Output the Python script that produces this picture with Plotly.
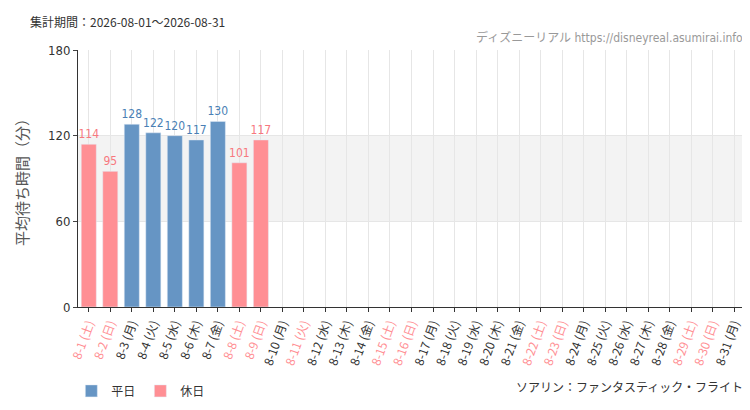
import plotly.graph_objects as go

days = ["8-%d" % d for d in range(1, 32)]
weekdays = ["土", "日", "月", "火", "水", "木", "金"] * 5
weekdays = weekdays[:31]
holidays = [1, 2, 8, 9, 11, 15, 16, 22, 23, 29, 30]
values = [114, 95, 128, 122, 120, 117, 130, 101, 117] + [None] * 22

blue = "#6695c4"
pink = "#ff8f94"
lab_blue = "#4a7fb5"
lab_pink = "#f7787e"
num_font = "DejaVu Sans Condensed, Roboto Condensed, Roboto"

cats = [d + " (" + w + ")" for d, w in zip(days, weekdays)]
hol_flag = [(i + 1) in holidays for i in range(31)]

wx = [c for c, h, v in zip(cats, hol_flag, values) if not h and v is not None]
wy = [v for h, v in zip(hol_flag, values) if not h and v is not None]
hx = [c for c, h, v in zip(cats, hol_flag, values) if h and v is not None]
hy = [v for h, v in zip(hol_flag, values) if h and v is not None]

ticktext = ['<span style="color:%s">%s</span>' % (pink if h else "#333", c) for c, h in zip(cats, hol_flag)]

fig = go.Figure()
fig.add_trace(go.Bar(x=wx, y=wy, name="平日", marker_color=blue, text=wy, textposition="outside",
                     constraintext="none",
                     textfont=dict(color=lab_blue, size=12, family=num_font), cliponaxis=False))
fig.add_trace(go.Bar(x=hx, y=hy, name="休日", marker_color=pink, text=hy, textposition="outside",
                     constraintext="none",
                     textfont=dict(color=lab_pink, size=12, family=num_font), cliponaxis=False))

fig.add_shape(type="rect", xref="paper", yref="y", x0=0, x1=1, y0=60, y1=120,
              fillcolor="#f3f3f3", line_width=0, layer="below")

fig.update_layout(
    width=750, height=410, barmode="overlay", bargap=0.3,
    margin=dict(l=70, r=13, t=42, b=102),
    plot_bgcolor="white", paper_bgcolor="white",
    font=dict(family="Noto Sans CJK JP", color="#333", size=12),
    legend=dict(orientation="h", x=-0.01, y=-0.27, xanchor="left", yanchor="top", font=dict(size=12)),
    annotations=[
        dict(text="集計期間：2026-08-01～2026-08-31", xref="paper", yref="paper", x=-0.075, y=1.07,
             xanchor="left", yanchor="bottom", showarrow=False, font=dict(size=12, color="#333")),
        dict(text="ディズニーリアル https://disneyreal.asumirai.info", xref="paper", yref="paper", x=1, y=1.01,
             xanchor="right", yanchor="bottom", showarrow=False,
             font=dict(size=12, color="#999", family=num_font + ", Noto Sans CJK JP")),
        dict(text="ソアリン：ファンタスティック・フライト", xref="paper", yref="paper", x=1, y=-0.27,
             xanchor="right", yanchor="top", showarrow=False, font=dict(size=12, color="#333")),
    ],
)
fig.update_xaxes(categoryorder="array", categoryarray=cats, tickmode="array", tickvals=cats, ticktext=ticktext,
                 range=[-0.5, 30.5], tickangle=-70, ticks="outside", ticklen=4, tickcolor="#333",
                 showline=True, linecolor="#333", showgrid=True, gridcolor="#e6e6e6",
                 tickfont=dict(size=12), automargin=False)
fig.update_yaxes(range=[0, 180], tickvals=[0, 60, 120, 180], showgrid=True, gridcolor="#e6e6e6",
                 showline=True, linecolor="#333", ticks="outside", ticklen=4, zeroline=False, automargin=False,
                 title=dict(text="平均待ち時間（分）", font=dict(size=15, color="#555")),
                 tickfont=dict(family=num_font, size=13))

fig.write_html("out.html")
